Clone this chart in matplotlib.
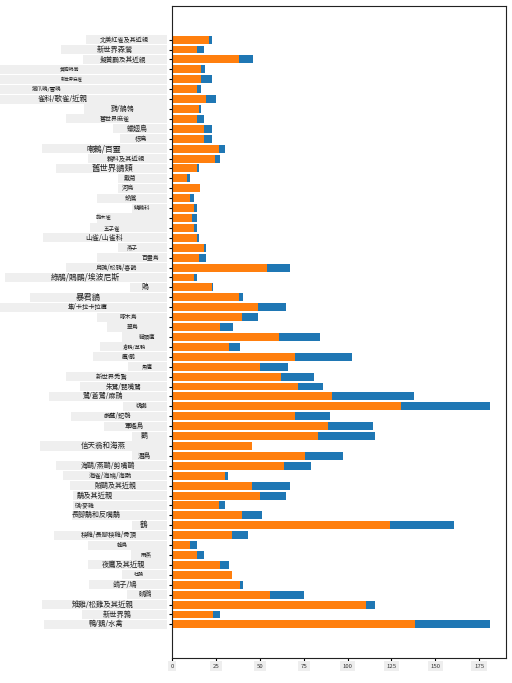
import matplotlib
matplotlib.use('Agg')
import matplotlib.pyplot as plt
from matplotlib.patches import Rectangle
from matplotlib.transforms import blended_transform_factory
import numpy as np

plt.rcParams['font.family'] = ['Noto Sans CJK TC', 'Noto Sans CJK SC', 'Noto Sans CJK JP', 'DejaVu Sans']

# ---- data (top to bottom as displayed) ----
categories = [
    "北美紅雀及其近親", "新世界森鶯", "擬黃鸝及其近親", "黃胸鵖鶯", "新世界麻雀",
    "鐵爪鵐/雪鵐", "雀科/歌雀/近親", "鷚/鶺鴒", "舊世界麻雀", "蠟翅鳥",
    "椋鳥", "嘲鶇/百靈", "鶇科及其近親", "舊世界鶲類", "戴菊",
    "河烏", "蚋鶯", "鷦鷯科", "旋木雀", "五子雀",
    "山雀/山雀科", "燕子", "百靈鳥", "烏鴉/松鴉/喜鵲", "綠鵑/鵙鶥/埃波尼斯",
    "鵙", "暴君鶲", "隼/卡拉卡拉鷹", "啄木鳥", "翠鳥",
    "貓頭鷹", "倉鴞/草鴞", "鷹/鵰", "魚鷹", "新世界禿鷲",
    "朱鷺/琵嘴鷺", "鷺/蒼鷺/麻鳽", "鵜鶘", "鸕鶿/蛇鵜", "軍艦鳥",
    "鸛", "信天翁和海燕", "潛鳥", "海鷗/燕鷗/剪嘴鷗", "海雀/海鳩/海鸚",
    "賊鷗及其近親", "鷸及其近親", "鴴/麥雞", "長腳鷸和反嘴鷸", "鶴",
    "秧雞/長腳秧雞/骨頂", "蜂鳥", "雨燕", "夜鷹及其近親", "杜鵑",
    "鴿子/鳩", "鸊鷉", "雉雞/松雞及其近親", "新世界鶉", "鴨/鵝/水禽",
]
max_length = [
    23, 18, 46, 19, 23,
    16.5, 25, 16.5, 18, 23,
    23, 30, 27.5, 15.5, 10.5,
    16, 12.5, 14.5, 14, 14,
    15.5, 19.5, 19.5, 67, 14.5,
    23.5, 40.5, 65, 49, 35,
    84.5, 39, 102.5, 66, 81,
    86, 138, 181, 90, 114.5,
    115.5, 45.5, 97.5, 79, 32,
    67, 65, 30, 51, 160.5,
    43, 14, 18, 32.5, 34,
    40.5, 75, 115.5, 27.5, 181,
]
min_length = [
    21, 14, 38, 16.5, 16.5,
    14, 19.5, 15.5, 14, 18.5,
    18.5, 27, 24.5, 14.5, 8.5,
    16, 10, 12.5, 11.5, 12.5,
    14, 18.5, 15.5, 54, 12.5,
    23, 38, 49, 40, 27.5,
    61, 32.5, 70, 50, 62,
    71.5, 91, 130.5, 70, 89,
    83, 45.5, 76, 64, 30,
    45.5, 50, 27, 40, 124,
    34, 10.5, 14.5, 27.5, 34,
    39, 56, 110.5, 23.5, 138.5,
]
xticks = [0, 25, 50, 75, 100, 125, 150, 175]

# ---- label styling (figure pixels / points) ----
label_center_px = [124, 115, 123, 70, 72, 47, 63, 123, 115, 137, 141, 104, 126, 112, 130,
                   128, 131, 142, 104, 112, 104, 132, 150, 116, 85, 145, 88, 88, 128, 133,
                   147, 134, 129, 147, 112, 124, 103, 142, 117, 134, 144, 103, 144, 108, 110,
                   116, 95, 85, 96, 144, 109, 122, 146, 124, 139, 125, 145, 103, 117, 106]
box_left_px = [86, 61, 83, 0, 0, 0, 0, 84, 66, 113, 120, 42, 88, 56, 118,
               118, 97, 132, 97, 90, 43, 118, 97, 66, 5, 130, 30, 0, 97, 107,
               122, 100, 93, 128, 66, 80, 49, 123, 71, 104, 132, 40, 132, 56, 63,
               70, 73, 73, 72, 132, 54, 88, 131, 88, 122, 89, 127, 42, 82, 44]
label_size = [4.4, 5.2, 4.8, 3.5, 3.2, 4, 5.3, 5, 4.3, 5, 4.5, 5.7, 4.6, 6, 4.5,
              4.5, 4.5, 4, 3.8, 4, 5, 4, 4.2, 4.4, 5.7, 5, 6, 4.5, 4.2, 4.2,
              4, 3.8, 4.2, 4, 4.6, 4.8, 5, 4.2, 4.5, 4.6, 5, 5.4, 4.8, 5, 4.6,
              5, 5.2, 4.2, 5, 5.5, 4.6, 4, 4, 5.2, 3.6, 5.2, 4.8, 5.3, 5.2, 5.2]

W, H = 512, 683
fig = plt.figure(figsize=(W / 100, H / 100), dpi=100)
ax = fig.add_axes([172 / W, 25 / H, (505.7 - 172) / W, 652 / H])

y = np.arange(len(categories))
ax.barh(y, max_length, color='#1f77b4')
ax.barh(y, min_length, color='#ff7f0e')
ax.invert_yaxis()

ax.set_yticks(y)
ax.set_yticklabels([])
ax.set_xticks(xticks)
ax.set_xticklabels([str(t) for t in xticks])
ax.tick_params(axis='y', length=2.5, width=0.8)
ax.tick_params(axis='x', length=2.5, width=0.8, labelsize=4.3, pad=1.5, labelcolor='#333333')
for lbl in ax.get_xticklabels():
    lbl.set_bbox(dict(facecolor='#eeeeee', edgecolor='none', pad=2.0))
for sp in ax.spines.values():
    sp.set_color('#222222')

trans = blended_transform_factory(fig.transFigure, ax.transData)
box_right_px = 167
for i, name in enumerate(categories):
    bl = box_left_px[i]
    fig.add_artist(Rectangle((bl / W, i - 0.46), (box_right_px - bl) / W, 0.92,
                             transform=trans, facecolor='#efefef', edgecolor='none',
                             zorder=1))
    fig.text(label_center_px[i] / W, i, name, transform=trans, ha='center', va='center',
             fontsize=label_size[i], color='#222222', zorder=2)

fig.savefig('out.png', dpi=100)
